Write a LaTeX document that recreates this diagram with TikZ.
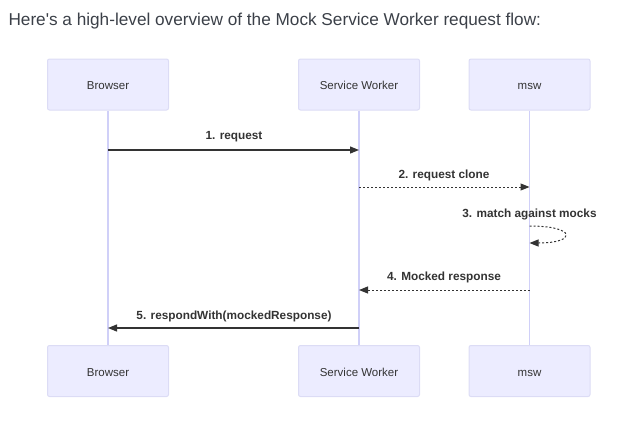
\documentclass[tikz,border=0pt]{standalone}
\usepackage{fontspec}
\setmainfont{Liberation Sans}
\usetikzlibrary{arrows.meta}

\definecolor{actorfill}{HTML}{ECECFF}
\definecolor{actorline}{HTML}{DCDCF5}
\definecolor{lifecol}{HTML}{D0D0F8}
\definecolor{msgcol}{HTML}{333333}
\definecolor{headcol}{HTML}{3B4048}

\tikzset{
  actor/.style={draw=actorline, fill=actorfill, rounded corners=2pt, line width=1pt,
    minimum width=121pt, minimum height=51pt, text=msgcol,
    text height=10.5pt, text depth=0pt,
    font=\fontsize{11.5}{13}\selectfont},
  lifeline/.style={draw=lifecol, line width=1.5pt},
  msg/.style={draw=msgcol, line width=1.2pt, -{Triangle[length=9pt,width=7pt]}},
  dottedmsg/.style={msg, line width=1pt, dash pattern=on 2pt off 2pt},
  msglabel/.style={text=msgcol, font=\bfseries\fontsize{11.8}{14}\selectfont}
}

\begin{document}
\begin{tikzpicture}[x=1pt,y=-1pt]
\useasboundingbox (0,0) rectangle (628,426);

\node[anchor=west, text=headcol, font=\fontsize{17.2}{20}\selectfont] (title) at (5,21)
  {Here\textquotesingle s a high-level overview of the Mock Service Worker request flow:};

% actors
\node[actor] (browserTop) at (108,84.5) {Browser};
\node[actor] (workerTop) at (359,84.5) {Service Worker};
\node[actor] (mswTop) at (529.5,84.5) {msw};
\node[actor] (browserBot) at (108,371) {Browser};
\node[actor] (workerBot) at (359,371) {Service Worker};
\node[actor] (mswBot) at (529.5,371) {msw};

% lifelines
\draw[lifeline] (browserTop.south) -- (browserBot.north);
\draw[lifeline] (workerTop.south) -- (workerBot.north);
\draw[lifeline] (mswTop.south) -- (mswBot.north);

% message points
\coordinate (reqA) at (108,150);
\coordinate (reqB) at (359,150);
\coordinate (cloneA) at (359,187);
\coordinate (cloneB) at (529.5,187);
\coordinate (matchA) at (529.5,226);
\coordinate (matchB) at (529.5,243);
\coordinate (mockA) at (529.5,290);
\coordinate (mockB) at (359,290);
\coordinate (respA) at (359,328);
\coordinate (respB) at (108,328);

% messages
\draw[msg] (reqA) -- (reqB);
\node[msglabel] (reqText) at (234,136.5) {1. request};

\draw[dottedmsg] (cloneA) -- (cloneB);
\node[msglabel] (cloneText) at (444,175.5) {2. request clone};

\draw[dottedmsg] (matchA) .. controls (577,226) and (577,243) .. (matchB);
\node[msglabel] (matchText) at (529.5,214) {3. match against mocks};

\draw[dottedmsg] (mockA) -- (mockB);
\node[msglabel] (mockText) at (444,277) {4. Mocked response};

\draw[msg] (respA) -- (respB);
\node[msglabel] (respText) at (234,316) {5. respondWith(mockedResponse)};

\end{tikzpicture}
\end{document}
